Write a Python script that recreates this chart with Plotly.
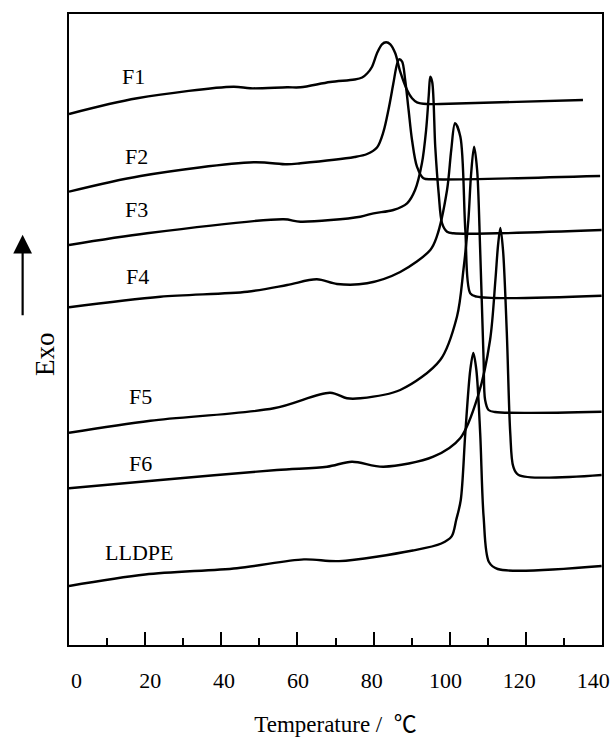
import plotly.graph_objects as go

# ---- data (temperature in degC, heat flow in arbitrary units, exo up) ----
F1_T = [0, 17.9, 43.2, 47.6, 57.3, 60.8, 68.6, 75.0, 77.0, 78.3, 79.6, 80.9, 82.2, 83.3, 84.4, 85.7, 87.0, 88.8, 90.1, 91.4, 94.0, 97.5, 135.0]
F1_Y = [531, 546.7, 558.3, 556.7, 557.7, 557.7, 563, 565.5, 567.5, 571.5, 578.3, 591.7, 600.7, 602.7, 600.7, 591.7, 573.3, 555, 546.7, 542.7, 541, 541, 545]

F2_T = [0, 18.8, 48.5, 57.3, 60.8, 75.0, 78.3, 80.9, 82.6, 83.9, 85.2, 86.1, 86.7, 87.5, 88.3, 89.2, 90.1, 91.4, 93.1, 95.7, 139.5]
F2_Y = [453.3, 469, 482.7, 480.7, 481.7, 488, 491, 497.5, 513.3, 535, 561.7, 580, 585.7, 583.3, 565, 535, 505, 478.3, 466.7, 465.7, 469]

F3_T = [0, 20.5, 56.4, 60.8, 76.5, 80.0, 85.2, 88.8, 90.9, 92.7, 93.8, 94.5, 94.9, 95.4, 96.2, 97.1, 98.0, 99.3, 101.0, 139.9]
F3_Y = [400, 411.7, 425.7, 423.3, 428.3, 431.7, 435, 441.7, 455, 481.7, 515, 550, 568.3, 563, 498.3, 451.7, 421.7, 413.3, 411.7, 415]

F4_T = [0, 24.0, 46.8, 57.3, 65.1, 70.4, 78.3, 87.0, 94.9, 96.6, 99.3, 100.4, 101.4, 102.8, 104.1, 105.4, 107.1, 139.9]
F4_Y = [337.7, 348.3, 353.3, 360, 365.7, 361, 361.7, 373, 395, 408.3, 455, 495, 521.7, 508.3, 415, 351.7, 348.3, 349.3]

F5_T = [0, 21.4, 53.8, 68.6, 73.0, 76.5, 87.0, 97.5, 101.9, 103.6, 104.9, 105.6, 106.4, 107.2, 108.0, 108.9, 109.3, 110.2, 111.9, 139.9]
F5_Y = [212.3, 224.3, 236.7, 252.3, 246.7, 246.7, 255, 285, 328.3, 375, 425, 470, 498.3, 475, 395, 285, 245, 235, 233, 233.3]

F6_T = [0, 24.0, 54.6, 67.8, 74.3, 82.6, 95.7, 102.8, 107.5, 110.6, 112.0, 112.7, 113.3, 114.0, 115.0, 115.9, 116.7, 118.1, 139.9]
F6_Y = [156.7, 165, 175, 178.3, 183.3, 178.3, 188.3, 207, 250, 305, 365, 400, 417, 395, 312, 212, 178.3, 170, 170]

LL_T = [0, 20.0, 44.1, 61.7, 70.9, 90.3, 97.8, 100.5, 101.7, 102.9, 104.1, 105.4, 106.2, 107.0, 108.0, 108.9, 110.3, 112.6, 139.9]
LL_Y = [59, 70.5, 76.8, 85.6, 83.9, 94.5, 101.5, 108.6, 125, 145, 212, 275, 292, 275, 212, 128.3, 83, 76, 79]

curves = [("F1", F1_T, F1_Y), ("F2", F2_T, F2_Y), ("F3", F3_T, F3_Y), ("F4", F4_T, F4_Y),
          ("F5", F5_T, F5_Y), ("F6", F6_T, F6_Y), ("LLDPE", LL_T, LL_Y)]

LABELS = ["F1", "F2", "F3", "F4", "F5", "F6", "LLDPE"]
LABEL_T = [17.0, 17.6, 17.6, 18.0, 18.7, 18.7, 18.4]
LABEL_Y = [569, 489, 436, 369, 249, 182, 93]

X_TICKS = [0, 20, 40, 60, 80, 100, 120, 140]

FONT = "Liberation Serif, 'Times New Roman', 'Noto Sans CJK SC', serif"

fig = go.Figure()
for name, t, y in curves:
    fig.add_trace(go.Scatter(x=t, y=y, mode="lines", name=name,
                             line=dict(color="black", width=2.4, shape="spline", smoothing=0.9),
                             showlegend=False, hoverinfo="skip"))

# carrier trace for the printed tick-label scale (labels in the original are slightly offset)
fig.add_trace(go.Scatter(x=X_TICKS, y=[None] * len(X_TICKS), xaxis="x2", yaxis="y",
                         mode="lines", showlegend=False, hoverinfo="skip"))

for lab, t, y in zip(LABELS, LABEL_T, LABEL_Y):
    fig.add_annotation(x=t, y=y, xref="x", yref="y", text=lab, showarrow=False,
                       font=dict(family=FONT, size=22, color="black"))

# Exo label and arrow
fig.add_annotation(x=-0.076, y=0.462, xref="paper", yref="paper", text="Exo",
                   textangle=-90, showarrow=False, font=dict(family=FONT, size=27, color="black"))
fig.add_annotation(x=-0.087, y=0.650, xref="paper", yref="paper", text="",
                   showarrow=True, ax=0, ay=82, axref="pixel", ayref="pixel",
                   arrowhead=2, arrowsize=1.7, arrowwidth=2.2, arrowcolor="black")

fig.update_layout(
    width=613, height=745, margin=dict(l=68.5, r=11, t=14, b=100),
    paper_bgcolor="white", plot_bgcolor="white",
    xaxis=dict(range=[0, 140], tickvals=X_TICKS, showticklabels=False,
               ticks="inside", ticklen=13, tickwidth=2, tickcolor="black",
               minor=dict(dtick=10, ticks="inside", ticklen=7, tickwidth=2, tickcolor="black"),
               showline=True, linewidth=2, linecolor="black", mirror=True,
               showgrid=False, zeroline=False, automargin=False),
    xaxis2=dict(overlaying="x", side="bottom", anchor="y", range=[-2.03, 142.4],
                tickvals=X_TICKS, ticktext=[str(v) for v in X_TICKS], ticks="",
                showline=False, showgrid=False, zeroline=False, automargin=False,
                ticklabelstandoff=20,
                tickfont=dict(family=FONT, size=22, color="black"),
                title=dict(text="\u00a0\u00a0Temperature /\u00a0\u00a0\u2103", standoff=23,
                           font=dict(family=FONT, size=23, color="black"))),
    yaxis=dict(range=[0, 631], showticklabels=False, ticks="",
               showline=True, linewidth=2, linecolor="black", mirror=True,
               showgrid=False, zeroline=False, automargin=False),
)

fig.write_html("out.html")
